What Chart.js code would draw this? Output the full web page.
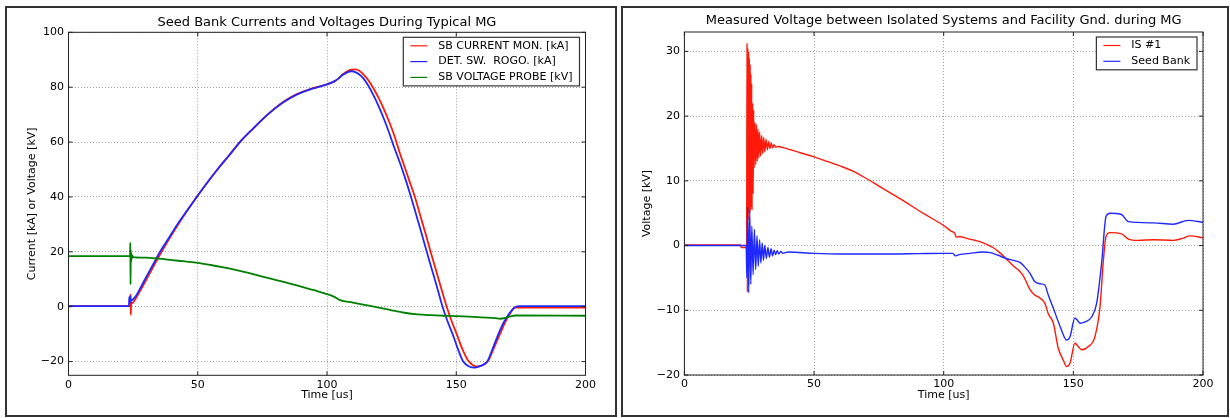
<!DOCTYPE html>
<html>
<head>
<meta charset="utf-8">
<script src="https://cdn.jsdelivr.net/npm/chart.js@4.4.1/dist/chart.umd.min.js"></script>
<style>
  html, body { margin: 0; padding: 0; background: #fff; }
  body { width: 1230px; height: 418px; position: relative; overflow: hidden; }
  .panel { position: absolute; top: 6px; height: 407px; border: 2px solid #333; background: #fff; }
  #p1 { left: 5px; width: 608px; }
  #p2 { left: 621px; width: 604px; }
  canvas { display: block; }
</style>
</head>
<body>
<div class="panel" id="p1"><canvas id="c1" width="608" height="407"></canvas></div>
<div class="panel" id="p2"><canvas id="c2" width="604" height="407"></canvas></div>
<script>
// ---- left panel: seed bank currents / voltage (time in us)
const sbCurT = [0, 23.5, 23.9, 24.0, 24.1, 24.25, 24.5, 26, 29.6, 32.5, 35.4, 38.8, 42.1, 45.8, 49.6, 53.5, 57.6, 62, 66.3, 71.5, 77, 83, 88, 94, 100, 103, 104.5, 106, 108, 110, 111, 112.5, 114, 116, 118, 120, 122, 124, 126, 128, 130, 132, 134, 136, 138, 140, 142, 144, 146.3, 148.3, 150.2, 152.3, 154.5, 156.5, 158.3, 160.3, 162.4, 164.5, 166.9, 169, 171, 172.7, 174, 200];
const sbCurV = [0.2, 0.2, 0.3, 4.5, -3, 1.5, 1.2, 3, 9, 14, 19, 24.5, 29.5, 34.8, 40, 45, 50, 55, 60, 65, 70, 74.6, 77.3, 79.5, 81, 82.2, 83.2, 84.6, 85.9, 86.4, 86.5, 86, 84.8, 82.5, 79.5, 76, 72, 67.5, 62.5, 56.5, 51, 45.5, 40, 33.5, 27, 20.3, 13.8, 7.3, 0, -5.5, -10, -15.3, -19.5, -21.3, -21.8, -21.3, -19.6, -15.2, -10, -5.5, -2.2, -0.3, -0.3, -0.3];

const rogoT = [0, 23.4, 23.5, 23.7, 23.9, 24.1, 24.5, 26, 29.6, 32.5, 35.4, 38.8, 42.1, 45.8, 49.6, 53.5, 57.6, 62, 66.3, 71.5, 77, 83, 88, 94, 100, 103, 104.5, 106, 108, 109.5, 111, 112.5, 114, 116, 118, 120, 122, 124, 126, 128, 130, 132.5, 134.5, 136.5, 138.6, 140.6, 142.6, 144.7, 146.7, 148.6, 150.6, 152.7, 155, 157.3, 159.5, 162, 164, 166.3, 168.5, 170.5, 172, 173.1, 174.5, 200];
const rogoV = [0.2, 0.2, 3.5, 1.2, 3.8, 2, 2.3, 3.8, 10, 15, 20, 25, 30, 35, 40, 45, 50, 55, 60, 65, 70, 74.4, 77.2, 79.4, 81, 82.2, 83.2, 84.4, 85.5, 85.8, 85.5, 84.6, 83.3, 80.5, 77, 73, 68.5, 63.5, 58, 53, 47.5, 40, 33.5, 27, 20, 13.5, 7, 0, -5.5, -10, -15.3, -20, -21.8, -22.2, -21.5, -20, -15.5, -10, -5.5, -2.5, -0.8, 0, 0.2, 0.2];

const probeT = [0, 23.8, 23.9, 24.0, 24.1, 24.2, 24.35, 24.5, 24.7, 25, 30, 35, 40, 45, 50, 55, 60, 65, 70, 75, 80, 85, 90, 95, 100, 103, 105, 110, 115, 120, 125, 130, 135, 140, 145, 150, 155, 160, 165, 167, 169, 171, 173, 200];
const probeV = [18.4, 18.4, 23.3, 8.1, 20.8, 16.2, 19.4, 17.4, 18.6, 18.1, 17.9, 17.5, 17.0, 16.5, 16.0, 15.2, 14.3, 13.3, 12.2, 11.0, 9.8, 8.6, 7.3, 6.0, 4.6, 3.5, 2.4, 1.5, 0.6, -0.3, -1.3, -2.2, -2.8, -3.1, -3.3, -3.4, -3.6, -3.9, -4.2, -4.4, -4.1, -3.5, -3.2, -3.3];

// ---- right panel: voltage to facility ground
const is1T = [0, 10, 21.5, 22, 23.9, 24.0, 24.15, 24.3, 24.45, 24.6, 24.75, 24.9, 25.05, 25.2, 25.35, 25.5, 25.65, 25.8, 25.95, 26.1, 26.3, 26.5, 26.7, 26.9, 27.2, 27.5, 27.8, 28.1, 28.4, 28.7, 29.0, 29.4, 29.8, 30.2, 30.6, 31.0, 31.5, 32.0, 32.5, 33.0, 33.5, 34.0, 34.6, 35.2, 36, 40, 45, 50, 55, 60, 65, 70, 75, 80, 85, 90, 95, 100, 103, 104.3, 104.8, 106, 110, 114, 117, 119, 121, 124, 127, 129.4, 131, 133.3, 135, 137.1, 139, 140.3, 142.3, 144.2, 146, 147.4, 148.7, 150.6, 151.9, 153.2, 155.8, 158.3, 160.3, 161.5, 162.6, 164.1, 168.6, 171.2, 175, 180.8, 188.5, 192, 195, 200];
const is1V = [0.1, 0.1, 0.1, -0.3, -0.3, -0.3, 31.3, -7.2, 30.5, 4, 30, 5, 29, 5, 28, 5.5, 26.5, 6, 25, 5.5, 22, 8, 21, 12, 19, 12.5, 18.7, 13, 18, 13.5, 17.5, 13.8, 17, 14.2, 16.7, 14.5, 16.4, 14.8, 16.1, 15, 15.9, 15.1, 15.6, 15.2, 15.3, 14.9, 14.3, 13.7, 13.0, 12.3, 11.5, 10.4, 9.2, 8.0, 6.8, 5.5, 4.3, 3.1, 2.2, 1.9, 1.3, 1.4, 1.0, 0.6, 0.1, -0.3, -0.9, -2.0, -3.2, -4.0, -4.9, -6.8, -7.6, -8.1, -8.9, -10.5, -12, -15.9, -17.6, -18.7, -18.2, -15.1, -15.6, -16.1, -15.6, -14.1, -9.4, -2.7, 1.4, 2.0, 1.8, 1.0, 0.8, 0.9, 0.8, 1.1, 1.5, 1.2];

const seedT = [0, 23.8, 24.1, 24.4, 24.8, 25.2, 25.6, 26.0, 26.5, 27.0, 27.5, 28.0, 28.5, 29.0, 29.5, 30.0, 30.5, 31.0, 31.6, 32.2, 32.8, 33.4, 34.0, 34.6, 35.2, 35.8, 36.4, 37.2, 38, 40, 50, 60, 70, 80, 90, 100, 103.5, 104.5, 106, 110, 115, 118, 121, 124, 127, 129.4, 131, 133.3, 135, 137.1, 139, 140.3, 142.3, 144.9, 147.4, 148.7, 150.6, 151.5, 152.5, 154.5, 157.1, 159, 160.9, 162.6, 164.1, 168.6, 171.2, 180.8, 188.5, 194.3, 200];
const seedV = [0, 0, -5, 6, -7.3, 5.5, -6, 3, -4.5, 2.5, -3.7, 1.5, -3.2, 0.9, -2.7, 0.4, -2.3, 0, -2.0, -0.3, -1.8, -0.5, -1.6, -0.7, -1.4, -0.8, -1.3, -0.9, -1.2, -1.0, -1.2, -1.3, -1.3, -1.3, -1.25, -1.2, -1.2, -1.6, -1.4, -1.2, -1.0, -1.1, -1.5, -2.0, -2.3, -2.6, -3.2, -4.3, -5.5, -5.9, -6.1, -7.6, -9.7, -12.5, -14.6, -14.1, -11.2, -11.5, -12.0, -11.8, -11.0, -8.9, -2.7, 4.5, 5.0, 4.8, 3.7, 3.5, 3.3, 3.9, 3.6];

const RED = 'rgb(255,25,10)', BLUE = 'rgb(30,40,255)', GREEN = 'rgb(0,128,0)';
const FONT = 'DejaVu Sans';

const pts = (t, v) => t.map((x, i) => ({ x, y: v[i] }));
const minus = v => String(v).replace('-', '\u2212');

// box frame with inward ticks on all four sides
const frame = {
  id: 'frame',
  afterDatasetsDraw(chart) {
    const { ctx, chartArea: a, scales: { x, y } } = chart;
    ctx.save();
    ctx.strokeStyle = '#222';
    ctx.lineWidth = 1;
    ctx.strokeRect(a.left, a.top, a.right - a.left, a.bottom - a.top);
    ctx.beginPath();
    x.ticks.forEach(t => {
      const px = x.getPixelForValue(t.value);
      ctx.moveTo(px, a.bottom); ctx.lineTo(px, a.bottom - 4);
      ctx.moveTo(px, a.top); ctx.lineTo(px, a.top + 4);
    });
    y.ticks.forEach(t => {
      const py = y.getPixelForValue(t.value);
      ctx.moveTo(a.left, py); ctx.lineTo(a.left + 4, py);
      ctx.moveTo(a.right, py); ctx.lineTo(a.right - 4, py);
    });
    ctx.stroke();
    ctx.restore();
  }
};

// legend box inside the upper right corner
const boxLegend = {
  id: 'boxLegend',
  afterDraw(chart) {
    const { ctx, chartArea: a } = chart;
    const items = chart.data.datasets;
    ctx.save();
    ctx.font = '11px "' + FONT + '"';
    const textW = Math.max(...items.map(d => ctx.measureText(d.label).width));
    const w = 35 + textW + 7;
    const h = 8.5 + (items.length - 1) * 15.8 + 8.5;
    const x = a.right - 6 - w, y = a.top + 5;
    ctx.fillStyle = '#fff';
    ctx.fillRect(x, y, w, h);
    ctx.strokeStyle = '#333';
    ctx.lineWidth = 1.2;
    ctx.strokeRect(x, y, w, h);
    items.forEach((d, i) => {
      const cy = y + 8.5 + i * 15.8;
      ctx.strokeStyle = d.borderColor;
      ctx.lineWidth = 1.2;
      ctx.beginPath(); ctx.moveTo(x + 7, cy); ctx.lineTo(x + 24, cy); ctx.stroke();
      ctx.fillStyle = '#000';
      ctx.textBaseline = 'middle';
      ctx.fillText(d.label, x + 35, cy);
    });
    ctx.restore();
  }
};

function makeChart(id, cfg) {
  const tickFont = { family: FONT, size: 11 };
  return new Chart(document.getElementById(id), {
    type: 'line',
    data: { datasets: cfg.datasets },
    options: {
      responsive: false,
      animation: false,
      devicePixelRatio: 1,
      layout: { padding: { left: 0, right: cfg.padRight, top: 0, bottom: 0 } },
      elements: { point: { radius: 0 }, line: { cubicInterpolationMode: 'monotone', borderWidth: cfg.lw } },
      plugins: {
        legend: { display: false },
        tooltip: { enabled: false },
        title: {
          display: true, text: cfg.title, fullSize: false, color: '#000',
          font: { family: FONT, size: 13, weight: 'normal', lineHeight: 1.2 },
          padding: { top: cfg.titleTop, bottom: cfg.titleBottom }
        }
      },
      scales: {
        x: {
          type: 'linear', min: 0, max: 200,
          grid: { color: '#888', lineWidth: 0.8, drawTicks: false },
          border: { display: false, dash: [1, 2] },
          ticks: { stepSize: 50, padding: 3, color: '#000', font: tickFont, maxRotation: 0, autoSkip: false, includeBounds: false },
          title: { display: true, text: 'Time [us]', color: '#000', font: tickFont, padding: { top: 0, bottom: 12.9 } },
          afterFit: s => { s.height = cfg.xh; }
        },
        y: {
          type: 'linear', min: cfg.ymin, max: cfg.ymax,
          grid: { color: '#888', lineWidth: 0.8, drawTicks: false },
          border: { display: false, dash: [1, 2] },
          ticks: { stepSize: cfg.ystep, padding: 4.5, color: '#000', font: tickFont, autoSkip: false, includeBounds: false, callback: minus },
          title: { display: true, text: cfg.ylabel, color: '#000', font: tickFont, padding: { top: cfg.ytitlePad, bottom: 0 } },
          afterFit: s => { s.width = cfg.yw; }
        }
      }
    },
    plugins: [frame, boxLegend]
  });
}

makeChart('c1', {
  title: 'Seed Bank Currents and Voltages During Typical MG',
  ylabel: 'Current [kA] or Voltage [kV]',
  ymin: -25, ymax: 100, ystep: 20,
  padRight: 29.5, yw: 61.5, xh: 39.7, titleTop: 7.2, titleBottom: 1.5, ytitlePad: 18.4, lw: 1.8,
  datasets: [
    { label: 'SB CURRENT MON. [kA]', data: pts(sbCurT, sbCurV), borderColor: RED, order: 3 },
    { label: 'DET. SW.  ROGO. [kA]', data: pts(rogoT, rogoV), borderColor: BLUE, order: 2 },
    { label: 'SB VOLTAGE PROBE [kV]', data: pts(probeT, probeV), borderColor: GREEN, order: 1 }
  ]
});

makeChart('c2', {
  title: 'Measured Voltage between Isolated Systems and Facility Gnd. during MG',
  ylabel: 'Voltage [kV]',
  ymin: -20, ymax: 33, ystep: 10,
  padRight: 24, yw: 61.4, xh: 40, titleTop: 4.9, titleBottom: 3.5, ytitlePad: 17.4, lw: 1.4,
  datasets: [
    { label: 'IS #1', data: pts(is1T, is1V), borderColor: RED, order: 2 },
    { label: 'Seed Bank', data: pts(seedT, seedV), borderColor: BLUE, order: 1 }
  ]
});
</script>
</body>
</html>
